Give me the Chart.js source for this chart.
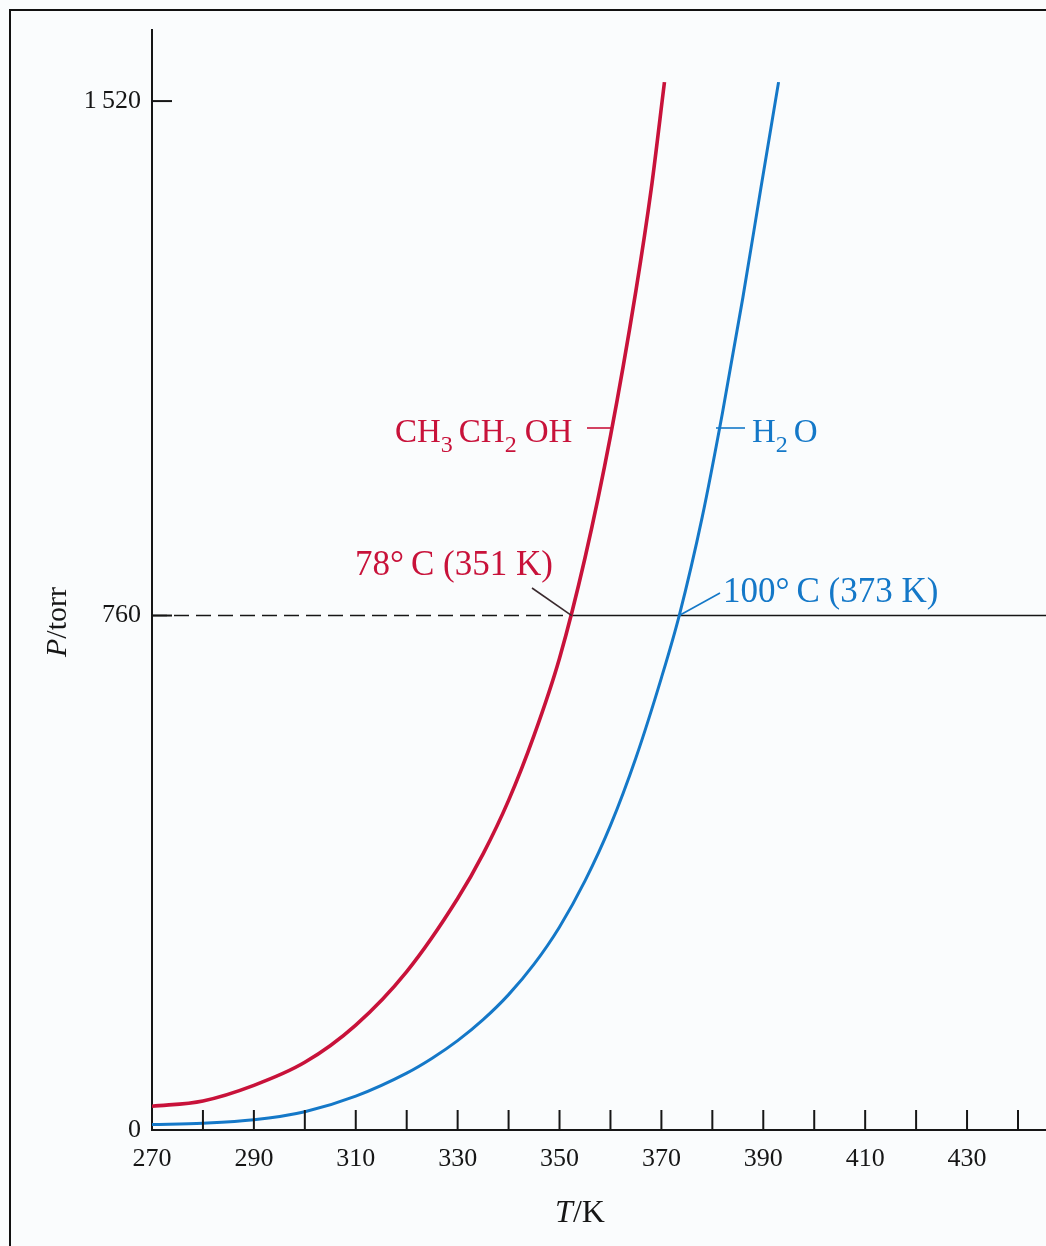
<!DOCTYPE html>
<html>
<head>
<meta charset="utf-8">
<script src="https://cdn.jsdelivr.net/npm/chart.js@4.4.1/dist/chart.umd.min.js"></script>
<style>
  html, body { margin: 0; padding: 0; background: #fafcfd; }
  #frame { position: absolute; left: 9px; top: 9px; width: 1037px; height: 1237px;
           border-left: 2px solid #111; border-top: 2px solid #111; }
  canvas { position: absolute; left: 0; top: 0; }
</style>
</head>
<body>
<div id="frame"></div>
<canvas id="myChart" width="1046" height="1246"></canvas>
<script>
// vapour pressure curves (T in K, P in torr)
const ethanolT = [270, 280, 290, 300, 310, 320, 330, 335, 340, 345, 350, 355, 360, 365, 368, 370.6];
const ethanolP = [35, 43, 66, 100, 155, 234, 342, 408, 487, 583, 697, 845, 1025, 1240, 1390, 1548];
const waterT = [270, 280, 290, 300, 310, 320, 325, 330, 335, 340, 345, 350, 355, 360, 365, 370, 373.5, 378, 382, 386, 389.5, 393];
const waterP = [8, 10, 15, 27, 50, 84, 106, 132, 163, 200, 245, 300, 368, 450, 550, 668, 760, 905, 1060, 1230, 1390, 1548];

// 1 atm line: dashed up to the ethanol curve, solid after
const atmT = [270, 352.4, 445.5];
const atmP = 760;

const xTicks = [270, 280, 290, 300, 310, 320, 330, 340, 350, 360, 370, 380, 390, 400, 410, 420, 430, 440];
const xLabels = [270, 290, 310, 330, 350, 370, 390, 410, 430];
const yTicks = [0, 760, 1520];
const yLabels = ["0", "760", "1\u2009520"];

const RED = "#c8123a";
const BLUE = "#1478c8";
const INK = "#161616";
const SERIF = '"Liberation Serif", "DejaVu Serif", serif';

function setFont(ctx, k, size) {
    if (k === "s") ctx.font = Math.round(size * 0.72) + "px " + SERIF;
    else if (k === "i") ctx.font = "italic " + size + "px " + SERIF;
    else ctx.font = size + "px " + SERIF;
}

// runs: [text, kind]; kind n = normal, i = italic, s = subscript, g = gap (text is px)
function drawRuns(ctx, runs, x, y, size) {
    let cx = x;
    runs.forEach(([t, k]) => {
        if (k === "g") { cx += t; return; }
        setFont(ctx, k, size);
        ctx.fillText(t, cx, k === "s" ? y + size * 0.3 : y);
        cx += ctx.measureText(t).width;
    });
    return cx - x;
}

function runsWidth(ctx, runs, size) {
    let w = 0;
    runs.forEach(([t, k]) => {
        if (k === "g") { w += t; return; }
        setFont(ctx, k, size);
        w += ctx.measureText(t).width;
    });
    return w;
}

function line(ctx, x1, y1, x2, y2) {
    ctx.beginPath();
    ctx.moveTo(x1, y1);
    ctx.lineTo(x2, y2);
    ctx.stroke();
}

const extras = {
    id: "extras",
    afterDraw(chart) {
        const { ctx, chartArea: a } = chart;
        const x = chart.scales.x;
        const y = chart.scales.y;
        ctx.save();

        // inward tick marks
        ctx.strokeStyle = INK;
        ctx.lineWidth = 2;
        xTicks.forEach((v) => {
            if (v === 270) return;
            const px = x.getPixelForValue(v);
            line(ctx, px, a.bottom, px, a.bottom - 20);
        });
        yTicks.forEach((v) => {
            if (v === 0) return;
            const py = y.getPixelForValue(v);
            line(ctx, a.left, py, a.left + 20, py);
        });

        // axis titles
        ctx.fillStyle = INK;
        ctx.textBaseline = "alphabetic";
        const pRuns = [["P", "i"], ["/torr", "n"]];
        const pw = runsWidth(ctx, pRuns, 30);
        ctx.save();
        ctx.translate(66, 622);
        ctx.rotate(-Math.PI / 2);
        drawRuns(ctx, pRuns, -pw / 2, 0, 30);
        ctx.restore();
        const tRuns = [["T", "i"], ["/K", "n"]];
        const tw = runsWidth(ctx, tRuns, 32);
        drawRuns(ctx, tRuns, 580 - tw / 2, 1222, 32);

        // curve labels
        ctx.fillStyle = RED;
        drawRuns(ctx, [["CH", "n"], ["3", "s"], [6, "g"], ["CH", "n"], ["2", "s"], [8, "g"], ["OH", "n"]], 395, 442, 33);
        ctx.strokeStyle = RED;
        ctx.lineWidth = 1.6;
        line(ctx, 587, 428, 613, 428);

        ctx.fillStyle = BLUE;
        drawRuns(ctx, [["H", "n"], ["2", "s"], [6, "g"], ["O", "n"]], 752, 442, 33);
        ctx.strokeStyle = BLUE;
        line(ctx, 716, 428, 745, 428);

        // boiling points
        ctx.fillStyle = RED;
        drawRuns(ctx, [["78°\u2009C (351 K)", "n"]], 355, 575, 35);
        ctx.strokeStyle = "#3a2a2e";
        const bx1 = x.getPixelForValue(atmT[1]);
        const by = y.getPixelForValue(atmP);
        line(ctx, 532, 588, bx1, by);

        ctx.fillStyle = BLUE;
        drawRuns(ctx, [["100°\u2009C (373 K)", "n"]], 723, 602, 35);
        ctx.strokeStyle = BLUE;
        const bx2 = x.getPixelForValue(373.5);
        line(ctx, bx2, by, 720, 593);

        ctx.restore();
    },
};

const ctx = document.getElementById("myChart");

new Chart(ctx, {
    type: "line",
    data: {
        datasets: [
            {
                label: "CH3CH2OH",
                data: ethanolT.map((t, i) => ({ x: t, y: ethanolP[i] })),
                borderColor: RED,
                borderWidth: 3.6,
                pointRadius: 0,
                cubicInterpolationMode: "monotone",
            },
            {
                label: "H2O",
                data: waterT.map((t, i) => ({ x: t, y: waterP[i] })),
                borderColor: BLUE,
                borderWidth: 3,
                pointRadius: 0,
                cubicInterpolationMode: "monotone",
            },
            {
                label: "760 torr",
                data: atmT.map((t) => ({ x: t, y: atmP })),
                borderColor: INK,
                borderWidth: 1.6,
                pointRadius: 0,
                segment: {
                    borderDash: (c) => (c.p0DataIndex === 0 ? [15, 7] : undefined),
                },
            },
        ],
    },
    options: {
        responsive: false,
        animation: false,
        layout: { padding: { top: 30, right: 0, left: 0, bottom: 0 } },
        plugins: {
            legend: { display: false },
            tooltip: { enabled: false },
        },
        scales: {
            x: {
                type: "linear",
                min: 270,
                max: 445.5,
                afterFit: (s) => { s.height = 116; },
                afterBuildTicks: (s) => { s.ticks = xTicks.map((v) => ({ value: v })); },
                ticks: {
                    autoSkip: false,
                    maxRotation: 0,
                    padding: 14,
                    color: INK,
                    font: { family: SERIF, size: 26 },
                    callback: (v) => (xLabels.includes(v) ? String(v) : ""),
                },
                grid: { display: false, drawTicks: false },
                border: { color: INK, width: 2 },
            },
            y: {
                type: "linear",
                min: 0,
                max: 1625,
                afterFit: (s) => { s.width = 152; },
                afterBuildTicks: (s) => { s.ticks = yTicks.map((v) => ({ value: v })); },
                ticks: {
                    autoSkip: false,
                    padding: 11,
                    color: INK,
                    font: { family: SERIF, size: 26 },
                    callback: (v) => yLabels[yTicks.indexOf(v)],
                },
                grid: { display: false, drawTicks: false },
                border: { color: INK, width: 2 },
            },
        },
    },
    plugins: [extras],
});
</script>
</body>
</html>
